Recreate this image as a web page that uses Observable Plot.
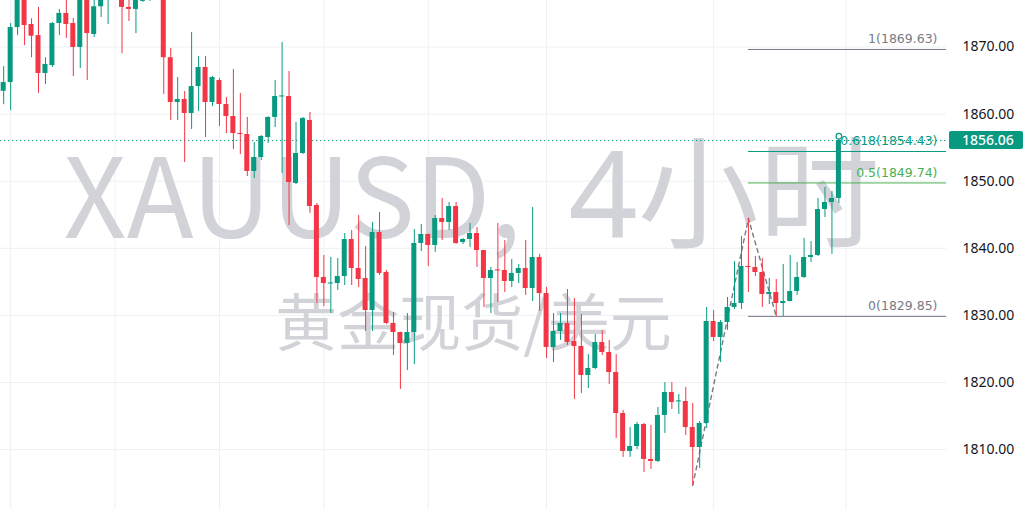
<!DOCTYPE html>
<html><head><meta charset="utf-8">
<script src="https://cdn.jsdelivr.net/npm/d3@7"></script>
<script src="https://cdn.jsdelivr.net/npm/@observablehq/plot@0.6"></script>
<style>
html,body{margin:0;padding:0;background:#fff;}
#chart{width:1024px;height:509px;overflow:hidden;}
</style></head><body><div id="chart"></div>
<script>
// XAUUSD 4h candles (bar index 0..120)
const open  = [1863.4,1864.7,1872.9,1878.0,1873.35,1871.7,1866.05,1867.24,1873.5,1875.0,1873.5,1869.93,1877.8,1871.86,1876.0,1877.5,1879.0,1880.0,1875.9,1875.6,1876.8,1877.0,1879.5,1878.5,1868.4,1861.73,1862.18,1860.09,1864.1,1866.95,1861.73,1865.0,1861.43,1859.64,1857.1,1856.96,1851.45,1853.53,1856.51,1859.5,1862.55,1862.62,1849.66,1854.13,1859.05,1846.38,1835.65,1834.68,1834.75,1835.8,1841.31,1836.99,1835.5,1830.73,1842.35,1836.4,1828.8,1827.45,1825.81,1827.45,1840.72,1842.06,1840.42,1844.44,1843.85,1846.23,1840.86,1841.31,1842.2,1839.67,1835.5,1836.77,1836.69,1835.05,1836.25,1836.99,1834.01,1838.63,1833.26,1825.22,1827.6,1828.79,1826.11,1825.37,1821.04,1822.09,1825.96,1824.47,1821.49,1815.38,1809.72,1810.46,1813.74,1808.53,1808.23,1815.08,1818.51,1817.1,1817.17,1813.29,1810.31,1813.89,1829.09,1826.71,1828.94,1831.18,1831.77,1837.29,1837.14,1836.39,1833.11,1833.41,1831.77,1832.07,1833.56,1835.65,1838.63,1838.93,1845.78,1846.83,1847.42];
const high  = [1867.1,1873.5,1879.5,1879.0,1874.2,1875.9,1868.4,1873.65,1875.6,1877.5,1874.25,1878.2,1878.5,1877.2,1879.0,1880.5,1881.5,1881.0,1877.3,1878.5,1878.0,1878.2,1880.2,1879.0,1869.78,1865.45,1863.37,1872.16,1868.58,1868.58,1865.6,1865.3,1862.47,1866.65,1863.07,1859.5,1855.77,1856.81,1859.6,1865.0,1870.67,1866.35,1858.75,1859.5,1860.24,1846.68,1838.93,1838.63,1838.48,1842.2,1842.65,1844.89,1840.27,1843.85,1845.34,1836.69,1830.43,1827.5,1830.28,1842.8,1843.55,1842.1,1844.89,1847.42,1846.83,1846.83,1841.46,1843.7,1843.1,1839.7,1837.14,1843.7,1841.16,1838.33,1837.59,1841.16,1846.08,1839.08,1834.16,1830.28,1830.28,1833.86,1832.52,1830.13,1824.17,1827.15,1827.75,1826.26,1824.17,1815.83,1813.3,1814.04,1813.9,1813.59,1816.28,1820.0,1820.0,1818.21,1819.26,1816.87,1814.19,1831.18,1830.73,1829.24,1832.67,1838.03,1841.76,1844.44,1838.78,1838.48,1835.5,1835.35,1837.59,1838.93,1837.88,1841.46,1841.01,1847.42,1849.06,1848.46,1857.1];
const low   = [1861.4,1860.5,1871.7,1870.2,1868.4,1863.1,1864.4,1866.95,1871.7,1871.27,1865.6,1866.8,1865.0,1871.4,1874.4,1873.35,1877.5,1869.0,1873.8,1872.0,1876.65,1876.8,1877.3,1862.9,1859.05,1859.05,1852.79,1857.7,1860.39,1856.51,1861.13,1858.15,1857.1,1854.7,1853.98,1850.7,1850.4,1853.08,1855.62,1858.0,1851.15,1843.4,1849.5,1853.98,1845.19,1831.77,1831.33,1830.28,1833.71,1834.46,1834.46,1834.16,1827.6,1827.6,1835.95,1828.64,1824.02,1818.96,1821.79,1822.68,1839.52,1837.29,1839.37,1841.16,1842.65,1840.57,1840.57,1840.12,1837.14,1831.18,1830.28,1831.92,1833.41,1834.16,1834.75,1832.97,1832.07,1830.58,1823.58,1822.98,1826.26,1825.52,1817.47,1818.36,1819.11,1821.94,1824.02,1819.7,1811.66,1808.83,1808.83,1810.02,1806.59,1807.04,1808.08,1812.4,1815.98,1815.23,1812.1,1804.65,1807.19,1813.14,1826.11,1822.98,1827.75,1830.88,1830.88,1833.41,1835.8,1831.18,1831.63,1829.85,1829.85,1832.0,1832.97,1835.5,1837.88,1838.78,1844.59,1839.08,1846.68];
const close = [1864.7,1872.9,1878.5,1873.2,1871.6,1866.05,1867.4,1873.5,1875.0,1873.35,1869.93,1877.5,1872.0,1876.0,1878.3,1879.5,1880.5,1875.9,1875.6,1877.8,1877.0,1877.6,1878.5,1868.4,1861.73,1862.18,1860.09,1864.1,1866.95,1861.73,1865.45,1861.43,1859.64,1857.1,1856.96,1851.45,1853.53,1856.66,1859.5,1862.62,1862.7,1849.8,1854.13,1859.34,1846.23,1835.65,1834.75,1834.83,1835.8,1841.31,1836.99,1835.35,1830.73,1842.35,1836.25,1828.8,1827.45,1825.81,1827.45,1840.72,1842.06,1840.42,1844.44,1843.85,1846.23,1840.72,1841.31,1842.2,1839.67,1835.5,1836.69,1836.62,1835.05,1836.25,1836.99,1834.01,1838.63,1833.26,1825.22,1827.6,1828.79,1825.96,1825.37,1821.04,1822.09,1825.96,1824.47,1821.49,1815.38,1809.72,1810.46,1813.74,1808.53,1808.23,1815.08,1818.51,1817.02,1817.25,1813.29,1810.31,1813.89,1829.09,1826.71,1828.94,1831.18,1831.77,1837.29,1837.14,1836.39,1833.11,1833.41,1831.77,1832.07,1833.56,1835.65,1838.63,1838.93,1845.78,1846.83,1847.42,1856.06];

const yTicks = [1810, 1820, 1830, 1840, 1850, 1860, 1870];
const gridBars = [1, 16, 31, 46, 61, 78, 102, 121];
const fibRatios = [1, 0.618, 0.5, 0];
const fibPrices = [1869.63, 1854.43, 1849.74, 1829.85];
const fibColors = ["#787b86", "#089981", "#4caf50", "#787b86"];
const fibStartBar = 107;
const zigzagBars = [99, 107, 111];
const zigzagPrices = [1804.65, 1844.44, 1829.85];
const lastPrice = 1856.06;
const markerPrice = 1856.7;
const symbolText = "XAUUSD,";
const intervalText = "4小时";
const descText = "黄金现货/美元";

const UP = "#089981", DOWN = "#f23645";
const xDomain = [-0.46, 135.46];
const yDomain = [1801.07, 1876.93];

const bars = close.map((c, i) => ({i, o: open[i], h: high[i], l: low[i], c}));
const ups = bars.filter(d => d.c >= d.o);
const downs = bars.filter(d => d.c < d.o);
const fib = fibRatios.map((r, k) => ({r, price: fibPrices[k], color: fibColors[k]}));
const zig = zigzagBars.map((b, k) => ({i: b, p: zigzagPrices[k]}));

const bodyLo = d => Math.min(d.o, d.c);
const bodyHi = d => Math.max(Math.max(d.o, d.c), Math.min(d.o, d.c) + 0.16);
const HW = 0.36;

const wmFont = "'Noto Sans CJK SC', 'Noto Sans', sans-serif";
const wmColor = "#d1d3d8";

const plot = Plot.plot({
  width: 1024, height: 509,
  marginLeft: 0, marginRight: 78, marginTop: 0, marginBottom: 0,
  style: {fontFamily: "'Noto Sans', sans-serif", fontSize: "14px", color: "#131722", background: "#ffffff"},
  x: {domain: xDomain, axis: null},
  y: {domain: yDomain, axis: null},
  marks: [
    Plot.gridY(yTicks, {stroke: "#eef0f4", strokeOpacity: 1}),
    Plot.gridX(gridBars, {stroke: "#eef0f4", strokeOpacity: 1}),
    Plot.text([symbolText], {text: d => d, frameAnchor: "top-left", dx: 63, dy: 237, lineAnchor: "bottom", textAnchor: "start",
      fontSize: 110, fontFamily: wmFont, fill: wmColor}),
    Plot.text([intervalText], {text: d => d, frameAnchor: "top-left", dx: 568, dy: 237, lineAnchor: "bottom", textAnchor: "start",
      fontSize: 121, fontFamily: "'Noto Sans', 'Noto Sans CJK SC', sans-serif", fill: wmColor}),
    Plot.text([descText], {text: d => d, frameAnchor: "top", dy: 345, lineAnchor: "bottom", textAnchor: "middle",
      fontSize: 62, fontFamily: wmFont, fill: wmColor}),
    ...fib.map(f => Plot.ruleY([f], {y: "price", x1: fibStartBar, x2: xDomain[1], stroke: f.color, strokeWidth: 1})),
    ...fib.map(f => Plot.text([f], {y: "price", frameAnchor: "right", text: d => `${d.r}(${d.price.toFixed(2)})`,
      textAnchor: "end", lineAnchor: "bottom", dx: -9, dy: -6, fill: f.color, fontSize: 12.5,
      fontFamily: "'DejaVu Sans', sans-serif"})),
    Plot.ruleY([lastPrice], {stroke: UP, strokeDasharray: "1.3,2.7", strokeWidth: 1}),
    Plot.line(zig, {x: "i", y: "p", stroke: "#787b86", strokeWidth: 1.4, strokeDasharray: "4,4"}),
    Plot.ruleX(ups, {x: "i", y1: "l", y2: "h", stroke: UP, strokeWidth: 1, clip: true}),
    Plot.ruleX(downs, {x: "i", y1: "l", y2: "h", stroke: DOWN, strokeWidth: 1, clip: true}),
    Plot.rect(ups, {x1: d => d.i - HW, x2: d => d.i + HW, y1: bodyLo, y2: bodyHi, fill: UP, clip: true}),
    Plot.rect(downs, {x1: d => d.i - HW, x2: d => d.i + HW, y1: bodyLo, y2: bodyHi, fill: DOWN, clip: true}),
    Plot.dot([markerPrice], {x: () => bars.length - 1, y: d => d, r: 2.8, stroke: UP, fill: "#ffffff", strokeWidth: 1.2}),
    Plot.axisY({ticks: yTicks, anchor: "right", tickSize: 0, tickPadding: 16, tickFormat: d => d.toFixed(2),
      label: null, fontSize: 14, fill: "#131722"})
  ]
});
document.getElementById("chart").appendChild(plot);

// last price tag on the price axis, placed with the plot's own y scale
const ys = plot.scale("y");
const yy = ys.apply(lastPrice);
const svg = d3.select(plot);
const tag = svg.append("g").attr("text-anchor", "start");
tag.append("rect").attr("x", 949).attr("y", yy - 9).attr("width", 74).attr("height", 18).attr("rx", 2).attr("fill", UP);
tag.append("text").attr("x", 962).attr("y", yy).attr("dy", "0.36em").attr("fill", "#ffffff").attr("text-anchor", "start")
  .attr("font-size", 14).attr("font-family", "'Noto Sans', sans-serif").attr("font-weight", 500).text(lastPrice.toFixed(2));
</script></body></html>
